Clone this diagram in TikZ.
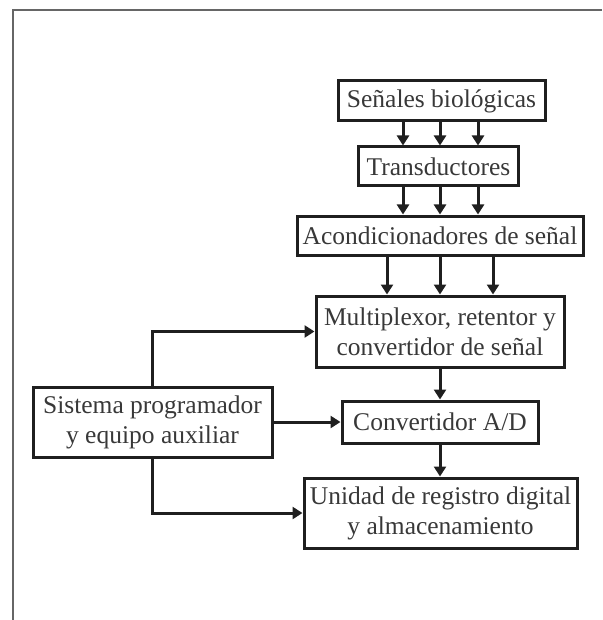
\documentclass[tikz,border=0pt]{standalone}
\usepackage{fontspec}
\setmainfont{Liberation Serif}
\usetikzlibrary{arrows.meta}
\begin{document}
\begin{tikzpicture}[x=1pt,y=-1pt,
  box/.style={draw=black!88, line width=3pt, align=center, inner sep=0pt,
    font=\fontsize{25.5}{30}\selectfont, text=black!78},
  arr/.style={draw=black!88, line width=3pt, -{Triangle[length=10pt,width=12pt]}}]
\useasboundingbox (0,0) rectangle (602,620);
\draw[black!60, line width=1.2pt] (13,620) -- (13,10) -- (602,10);

\node[box, minimum width=207pt, minimum height=40pt] (sen) at (441.5,101) {Señales biológicas};
\node[box, minimum width=160pt, minimum height=39pt] (tra) at (438.5,166.5) {Transductores};
\node[box, minimum width=286pt, minimum height=39pt] (aco) at (440,235.5) {Acondicionadores de señal};
\node[box, minimum width=248pt, minimum height=71pt] (mux) at (440,331.5) {Multiplexor, retentor y\\convertidor de señal};
\node[box, minimum width=196pt, minimum height=42pt] (adc) at (440,422) {Convertidor A/D};
\node[box, minimum width=273pt, minimum height=70pt] (uni) at (440.5,513) {Unidad de registro digital\\y almacenamiento};
\node[box, minimum width=239pt, minimum height=70pt] (sis) at (152.5,422) {Sistema programador\\y equipo auxiliar};

\coordinate (a1) at (403,0);
\coordinate (a2) at (440,0);
\coordinate (a3) at (478,0);
\coordinate (b1) at (387,0);
\coordinate (b3) at (493,0);

\foreach \c in {a1,a2,a3} {
  \draw[arr] (sen.south -| \c) -- (tra.north -| \c);
  \draw[arr] (tra.south -| \c) -- (aco.north -| \c);
}
\foreach \c in {b1,a2,b3} {
  \draw[arr] (aco.south -| \c) -- (mux.north -| \c);
}
\draw[arr] (mux.south) -- (adc.north);
\draw[arr] (adc.south) -- (uni.north -| adc.south);
\draw[arr] (sis.north) |- (mux.west);
\draw[arr] (sis.east) -- (adc.west);
\draw[arr] (sis.south) |- (uni.west);
\end{tikzpicture}
\end{document}
